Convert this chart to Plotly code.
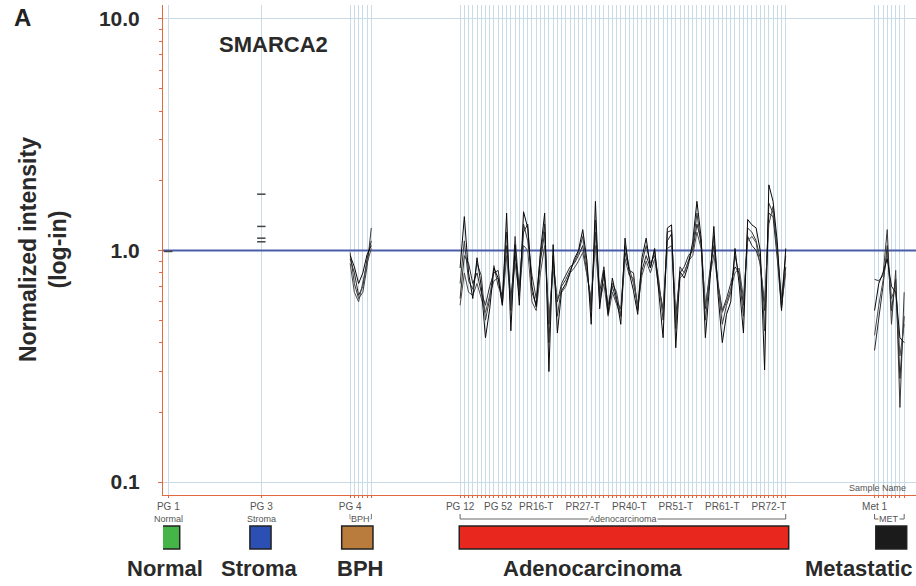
import plotly.graph_objects as go

# ---------------- data ----------------
normal_x = [0]
normal_vals = [0.99]
stroma_x = [22, 22, 22, 22]
stroma_vals = [1.75, 1.27, 1.13, 1.09]

bph_x = list(range(43, 49))
bph_series = [
    [0.98, 0.72, 0.62, 0.66, 0.85, 1.25],
    [0.92, 0.80, 0.64, 0.70, 0.92, 1.10],
    [0.88, 0.66, 0.60, 0.74, 0.88, 1.02],
    [0.95, 0.85, 0.72, 0.80, 0.96, 1.05],
]

adeno_x = list(range(69, 147))
adeno_s1 = [0.84, 1.40, 0.80, 0.62, 0.93, 0.70, 0.42, 0.56, 0.84, 0.76, 0.58, 1.45, 0.45, 1.06, 0.58,
            1.47, 1.25, 0.70, 0.57, 0.99, 1.45, 0.30, 1.06, 0.44, 0.67, 0.72, 0.80, 0.92, 1.00, 1.23,
            0.90, 0.48, 1.63, 0.56, 0.82, 0.53, 0.76, 0.62, 0.48, 1.13, 0.80, 0.67, 0.53, 0.93, 1.13,
            0.84, 1.02, 0.67, 0.42, 1.25, 1.29, 0.38, 0.81, 0.76, 0.87, 1.09, 1.63, 1.13, 0.42, 0.71,
            1.27, 0.64, 0.40, 0.53, 0.60, 1.02, 0.71, 0.44, 1.36, 1.29, 1.25, 0.99, 0.305, 1.92, 1.63,
            1.09, 0.55, 1.02]
adeno_s2 = [0.72, 1.10, 0.74, 0.68, 0.88, 0.78, 0.50, 0.62, 0.86, 0.70, 0.64, 1.20, 0.55, 1.15, 0.66,
            1.30, 1.10, 0.78, 0.62, 0.95, 1.30, 0.40, 0.95, 0.52, 0.70, 0.75, 0.82, 0.90, 0.98, 1.15,
            0.85, 0.55, 1.35, 0.62, 0.78, 0.58, 0.72, 0.66, 0.52, 1.05, 0.84, 0.72, 0.58, 0.88, 1.05,
            0.88, 0.95, 0.74, 0.50, 1.20, 1.22, 0.46, 0.85, 0.80, 0.90, 1.02, 1.45, 1.05, 0.50, 0.75,
            1.15, 0.70, 0.48, 0.58, 0.66, 0.95, 0.78, 0.52, 1.25, 1.20, 1.10, 0.92, 0.45, 1.60, 1.45,
            1.00, 0.62, 0.95]
adeno_s3 = [0.62, 0.95, 0.88, 0.72, 0.80, 0.66, 0.58, 0.70, 0.80, 0.82, 0.60, 1.05, 0.62, 0.95, 0.70,
            1.20, 1.30, 0.66, 0.58, 0.90, 1.20, 0.48, 0.90, 0.60, 0.72, 0.78, 0.85, 0.88, 0.95, 1.05,
            0.80, 0.60, 1.20, 0.66, 0.85, 0.55, 0.70, 0.60, 0.56, 0.98, 0.82, 0.80, 0.55, 0.82, 0.95,
            0.84, 1.00, 0.70, 0.56, 1.10, 1.18, 0.52, 0.80, 0.85, 0.95, 1.00, 1.30, 1.10, 0.56, 0.80,
            1.05, 0.72, 0.55, 0.62, 0.72, 0.85, 0.80, 0.58, 1.15, 1.05, 1.00, 0.88, 0.55, 1.45, 1.40,
            0.92, 0.56, 0.85]
adeno_s4 = [0.58, 0.80, 0.66, 0.64, 0.72, 0.62, 0.54, 0.64, 0.74, 0.76, 0.58, 0.95, 0.58, 0.88, 0.64,
            1.05, 1.00, 0.60, 0.55, 0.80, 1.05, 0.50, 0.82, 0.62, 0.66, 0.70, 0.80, 0.84, 0.90, 0.98,
            0.78, 0.62, 1.05, 0.60, 0.72, 0.52, 0.66, 0.58, 0.52, 0.92, 0.78, 0.76, 0.57, 0.78, 0.90,
            0.80, 0.92, 0.68, 0.55, 1.02, 1.05, 0.50, 0.76, 0.80, 0.90, 0.95, 1.20, 1.02, 0.58, 0.76,
            0.96, 0.70, 0.54, 0.60, 0.68, 0.80, 0.84, 0.62, 1.10, 1.15, 1.08, 0.85, 0.60, 1.30, 1.55,
            0.98, 0.58, 0.80]
adeno_series = [adeno_s2, adeno_s3, adeno_s4, adeno_s1]

met_x = list(range(167, 175))
met_series = [
    [0.75, 0.74, 0.78, 1.23, 0.48, 0.82, 0.21, 0.66],
    [0.37, 0.50, 0.70, 1.05, 0.55, 0.75, 0.28, 0.52],
    [0.43, 0.58, 0.74, 0.98, 0.62, 0.70, 0.35, 0.48],
    [0.55, 0.72, 0.80, 0.92, 0.70, 0.66, 0.42, 0.40],
]

tick_labels = {0: "PG 1", 22: "PG 3", 43: "PG 4", 69: "PG 12", 78: "PG 52", 87: "PR16-T",
               98: "PR27-T", 109: "PR40-T", 120: "PR51-T", 131: "PR61-T", 142: "PR72-T",
               167: "Met 1"}

y_ticks = [0.1, 1, 10]
y_ticktext = ["0.1", "1.0", "10.0"]
y_minor = [0.2, 0.3, 0.4, 0.5, 0.6, 0.7, 0.8, 0.9, 2, 3, 4, 5, 6, 7, 8, 9]

groups = ["Normal", "Stroma", "BPH", "Adenocarcinoma", "Metastatic"]
group_colors = ["#45b547", "#2b4fb2", "#b97c3c", "#e8281e", "#1b1b1b"]
group_box_x = [(-2.7, 2.7), (19.3, 24.3), (41.0, 48.4), (68.8, 146.7), (167.3, 174.6)]
group_label_x = [-0.8, 21.6, 45.3, 100.2, 163.3]

# ---------------- layout helpers ----------------
W, H = 916, 586
ML, MR, MT, MB = 163, 0, 5, 91
X_RANGE = [-1.25, 176.8]
ORANGE = "#e2693f"
GRID = "#c9dbe7"


def py(px):
    return (H - MB - px) / (H - MT - MB)


def pxp(px):
    return (px - ML) / (W - ML - MR)


all_x = normal_x + [22] + bph_x + adeno_x + met_x

fig = go.Figure()

# reference line at 1.0
fig.add_trace(go.Scatter(x=X_RANGE, y=[1, 1], mode="lines",
                         line=dict(color="#4a5da8", width=2), hoverinfo="skip"))

line_colors = ["#3a3a3a", "#2a2a2a", "#4a4a4a", "#0a0a0a"]
for i, s in enumerate(bph_series):
    fig.add_trace(go.Scatter(x=bph_x, y=s, mode="lines",
                             line=dict(color=line_colors[i], width=1)))
for i, s in enumerate(adeno_series):
    fig.add_trace(go.Scatter(x=adeno_x, y=s, mode="lines",
                             line=dict(color=line_colors[i], width=1)))
for i, s in enumerate(met_series):
    fig.add_trace(go.Scatter(x=met_x, y=s, mode="lines",
                             line=dict(color=line_colors[i], width=1)))

fig.add_trace(go.Scatter(x=normal_x, y=normal_vals, mode="markers",
                         marker=dict(symbol="line-ew", size=6,
                                     line=dict(color="#444", width=1.5))))
fig.add_trace(go.Scatter(x=stroma_x, y=stroma_vals, mode="markers",
                         marker=dict(symbol="line-ew", size=6,
                                     line=dict(color="#444", width=1.5))))

shapes = []
annotations = []

# group boxes and big labels
for g, c, (x0, x1), lx in zip(groups, group_colors, group_box_x, group_label_x):
    shapes.append(dict(type="rect", xref="x", yref="paper", x0=x0, x1=x1,
                       y0=py(549), y1=py(526), fillcolor=c,
                       line=dict(color="#222", width=1.5)))
    annotations.append(dict(text="<b>%s</b>" % g, xref="x", yref="paper", x=lx, y=py(568),
                            showarrow=False, xanchor="center", yanchor="middle",
                            font=dict(family="Liberation Sans, Arial", size=22, color="#2a2a2a")))

# second-line small labels under tick labels
for txt, x in [("Normal", 0), ("Stroma", 22)]:
    annotations.append(dict(text=txt, xref="x", yref="paper", x=x, y=py(519),
                            showarrow=False, yanchor="middle",
                            font=dict(family="Liberation Sans, Arial", size=9, color="#555")))

# brackets
for txt, x0, x1 in [("BPH", 43, 48), ("Adenocarcinoma", 69, 146), ("MET", 167, 174)]:
    shapes.append(dict(type="path", xref="x", yref="paper",
                       path="M %f,%f L %f,%f L %f,%f L %f,%f" % (x0, py(514), x0, py(519),
                                                                x1, py(519), x1, py(514)),
                       line=dict(color="#666", width=1)))
    annotations.append(dict(text=txt, xref="x", yref="paper", x=(x0 + x1) / 2, y=py(519),
                            showarrow=False, bgcolor="white", borderpad=0, yanchor="middle",
                            font=dict(family="Liberation Sans, Arial", size=9, color="#555")))

annotations += [
    dict(text="<b>A</b>", xref="paper", yref="paper", x=pxp(12), y=py(18), showarrow=False,
         xanchor="left", yanchor="middle",
         font=dict(family="Liberation Sans, Arial", size=24, color="#222")),
    dict(text="<b>SMARCA2</b>", xref="paper", yref="paper", x=pxp(217), y=py(45),
         showarrow=False, xanchor="left", yanchor="middle",
         font=dict(family="Liberation Sans, Arial", size=22, color="#2a2a2a")),
    dict(text="<b>Normalized intensity<br>(log-in)</b>", xref="paper", yref="paper",
         x=pxp(43), y=py(250), showarrow=False, textangle=-90,
         xanchor="center", yanchor="middle",
         font=dict(family="Liberation Sans, Arial", size=23, color="#2a2a2a")),
    dict(text="Sample Name", xref="paper", yref="paper", x=pxp(908), y=py(488),
         showarrow=False, xanchor="right", yanchor="middle",
         font=dict(family="Liberation Sans, Arial", size=9, color="#555")),
]

fig.update_layout(
    width=W, height=H,
    margin=dict(l=ML, r=MR, t=MT, b=MB),
    paper_bgcolor="white", plot_bgcolor="white",
    showlegend=False,
    shapes=shapes, annotations=annotations,
    xaxis=dict(range=X_RANGE, tickmode="array", tickvals=all_x,
               ticktext=[tick_labels.get(x, "") for x in all_x],
               showgrid=True, gridcolor=GRID, gridwidth=1,
               ticks="outside", ticklen=2, tickcolor=ORANGE,
               showline=True, linecolor=ORANGE, linewidth=1, zeroline=False,
               tickfont=dict(family="Liberation Sans, Arial", size=10, color="#555")),
    yaxis=dict(type="log", range=[-1.056, 1.06], tickmode="array", tickvals=y_ticks,
               ticktext=["<b>%s</b>" % t for t in y_ticktext],
               showgrid=True, gridcolor=GRID, gridwidth=1,
               ticks="outside", ticklen=4, tickcolor=ORANGE,
               showline=True, linecolor=ORANGE, linewidth=1, zeroline=False,
               ticklabelstandoff=14,
               minor=dict(tickmode="array", tickvals=y_minor, ticks="outside",
                          ticklen=3, tickcolor=ORANGE, showgrid=False),
               tickfont=dict(family="Liberation Sans, Arial", size=21, color="#2a2a2a")),
)

fig.write_html("out.html")
